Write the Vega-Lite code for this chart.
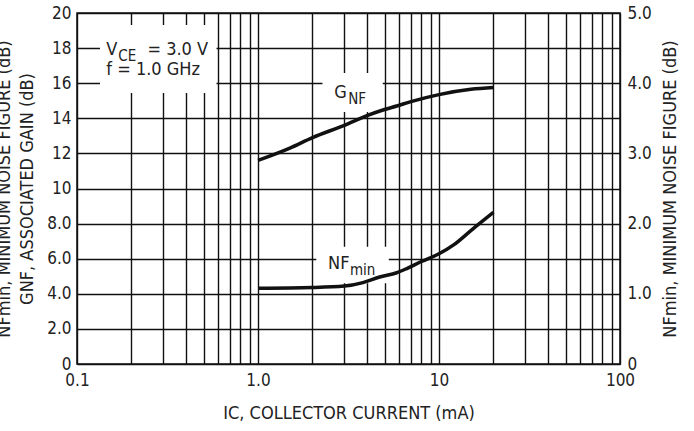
{
  "$schema": "https://vega.github.io/schema/vega-lite/v6.json",
  "width": 543,
  "height": 351,
  "autosize": {"type": "none"},
  "padding": {"left": 77, "top": 13, "right": 74, "bottom": 67},
  "background": "white",
  "config": {
    "font": "DejaVu Sans Condensed, Liberation Sans",
    "view": {"stroke": "#111", "strokeWidth": 1.5},
    "axis": {
      "labelFont": "DejaVu Sans Condensed, Liberation Sans",
      "titleFont": "DejaVu Sans Condensed, Liberation Sans",
      "labelColor": "#222",
      "titleColor": "#222",
      "labelFontSize": 17,
      "titleFontSize": 18,
      "titleFontWeight": "normal",
      "ticks": false,
      "domain": false,
      "gridColor": "#111",
      "gridWidth": 1.4,
      "gridOpacity": 1
    }
  },
  "datasets": {
    "gnf": [
      {"x": 1.0, "y": 11.6},
      {"x": 1.5, "y": 12.3},
      {"x": 2.0, "y": 12.9},
      {"x": 3.0, "y": 13.6},
      {"x": 4.0, "y": 14.15},
      {"x": 5.0, "y": 14.5},
      {"x": 5.84, "y": 14.7},
      {"x": 7.0, "y": 14.95},
      {"x": 10.0, "y": 15.35},
      {"x": 15.0, "y": 15.65},
      {"x": 20.0, "y": 15.75}
    ],
    "nf": [
      {"x": 1.0, "y": 1.08},
      {"x": 2.0, "y": 1.09},
      {"x": 3.0, "y": 1.11},
      {"x": 3.8, "y": 1.16},
      {"x": 4.7, "y": 1.24},
      {"x": 5.84, "y": 1.3},
      {"x": 6.64, "y": 1.36},
      {"x": 8.0, "y": 1.46},
      {"x": 10.0, "y": 1.57},
      {"x": 12.1, "y": 1.7},
      {"x": 15.0, "y": 1.9},
      {"x": 20.0, "y": 2.16}
    ],
    "boxes": [
      {"x": 0.134, "x2": 0.59, "y": 15.44, "y2": 19.32},
      {"x": 2.27, "x2": 4.89, "y": 14.36, "y2": 16.58},
      {"x": 2.1, "x2": 5.28, "y": 4.6, "y2": 6.68}
    ],
    "labels": [
      {"x": 0.1453, "y": 17.6, "t": "V"},
      {"x": 0.245, "y": 17.6, "t": "= 3.0 V"},
      {"x": 0.1453, "y": 16.47, "t": "f = 1.0 GHz"},
      {"x": 2.64, "y": 15.14, "t": "G"},
      {"x": 2.44, "y": 5.4, "t": "NF"}
    ],
    "subs": [
      {"x": 0.169, "y": 17.6, "t": "CE"},
      {"x": 3.15, "y": 15.14, "t": "NF"},
      {"x": 3.22, "y": 5.4, "t": "min"}
    ]
  },
  "encoding": {
    "x": {
      "field": "x",
      "type": "quantitative",
      "scale": {"type": "log", "domain": [0.1, 100]},
      "axis": {
        "values": [0.1, 0.2, 0.3, 0.4, 0.5, 0.6, 0.7, 0.8, 0.9, 1, 2, 3, 4, 5, 6, 7, 8, 9, 10, 20, 30, 40, 50, 60, 70, 80, 90, 100],
        "labelExpr": "datum.value == 0.1 ? '0.1' : datum.value == 1 ? '1.0' : datum.value == 10 ? '10' : datum.value == 100 ? '100' : ''",
        "labelPadding": 8,
        "labelFlush": false,
        "labelOverlap": false,
        "title": "IC, COLLECTOR CURRENT (mA)",
        "titlePadding": 16,
        "grid": true
      }
    }
  },
  "layer": [
    {
      "encoding": {
        "y": {
          "field": "y",
          "type": "quantitative",
          "scale": {"domain": [0, 20], "nice": false},
          "axis": {
            "values": [0, 2, 4, 6, 8, 10, 12, 14, 16, 18, 20],
            "labelExpr": "datum.value == 0 ? '0' : datum.value >= 10 ? format(datum.value, 'd') : format(datum.value, '.1f')",
            "labelPadding": 6,
            "title": ["NFmin, MINIMUM NOISE FIGURE (dB)", "GNF, ASSOCIATED GAIN (dB)"],
            "titleLineHeight": 23,
            "titlePadding": 10,
            "grid": true
          }
        }
      },
      "layer": [
        {
          "data": {"name": "boxes"},
          "mark": {"type": "rect", "fill": "white", "stroke": null},
          "encoding": {"x2": {"field": "x2"}, "y2": {"field": "y2"}}
        },
        {
          "data": {"name": "labels"},
          "mark": {"type": "text", "align": "left", "baseline": "alphabetic", "fontSize": 18, "color": "#222"},
          "encoding": {"text": {"field": "t"}}
        },
        {
          "data": {"name": "subs"},
          "mark": {"type": "text", "align": "left", "baseline": "alphabetic", "fontSize": 15, "dy": 6, "color": "#222"},
          "encoding": {"text": {"field": "t"}}
        },
        {
          "data": {"name": "gnf"},
          "mark": {"type": "line", "color": "#111", "strokeWidth": 3.5, "interpolate": "monotone"},
          "encoding": {}
        }
      ]
    },
    {
      "data": {"name": "nf"},
      "mark": {"type": "line", "color": "#111", "strokeWidth": 3.5, "interpolate": "monotone"},
      "encoding": {
        "y": {
          "field": "y",
          "type": "quantitative",
          "scale": {"domain": [0, 5], "nice": false},
          "axis": {
            "orient": "right",
            "values": [0, 1, 2, 3, 4, 5],
            "labelExpr": "datum.value == 0 ? '0' : format(datum.value, '.1f')",
            "labelPadding": 7,
            "grid": false,
            "title": "NFmin, MINIMUM NOISE FIGURE (dB)",
            "titleAngle": 270,
            "titlePadding": 28
          }
        }
      }
    }
  ],
  "resolve": {"scale": {"y": "independent"}, "axis": {"y": "independent"}}
}
